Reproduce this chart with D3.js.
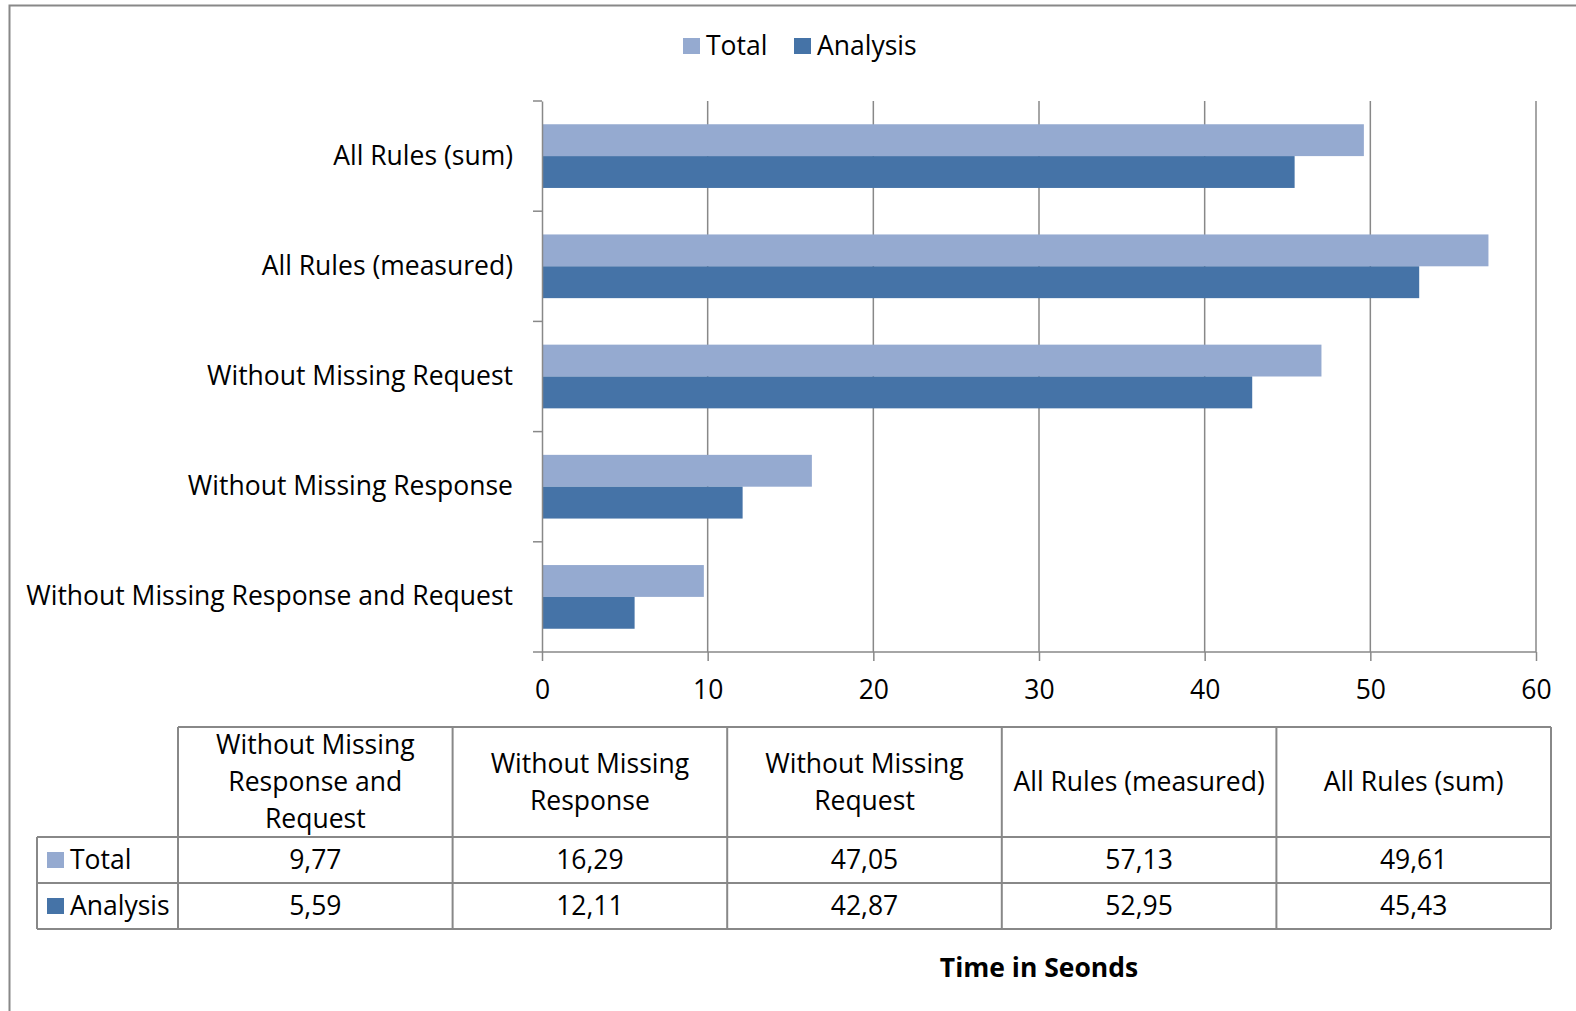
<!DOCTYPE html>
<html>
<head>
<meta charset="utf-8">
<script src="https://cdn.jsdelivr.net/npm/d3@7"></script>
<style>
  html, body { margin: 0; padding: 0; background: #fff; }
  svg text { font-family: "Open Sans", "Noto Sans", sans-serif; fill: #000; }
</style>
</head>
<body>
<svg id="chart" width="1576" height="1011"></svg>
<script>
// Run-time categories, in table order (bottom bar first)
const categories = [
  "Without Missing Response and Request",
  "Without Missing Response",
  "Without Missing Request",
  "All Rules (measured)",
  "All Rules (sum)"
];
const seriesNames = ["Total", "Analysis"];
const totalValues = [9.77, 16.29, 47.05, 57.13, 49.61];
const analysisValues = [5.59, 12.11, 42.87, 52.95, 45.43];
const xTicks = [0, 10, 20, 30, 40, 50, 60];
const axisTitle = "Time in Seonds";

const colors = { Total: "#95AAD0", Analysis: "#4573A7" };
const lineGray = "#888888";

const svg = d3.select("#chart");
const W = 1576, H = 1011;
const fontSize = 26.5;

// outer chart frame
svg.append("rect")
  .attr("x", 9.5).attr("y", 5.5)
  .attr("width", W).attr("height", H)
  .attr("fill", "none").attr("stroke", lineGray).attr("stroke-width", 2);

const plot = { left: 542, right: 1536, top: 101, bottom: 652 };

const x = d3.scaleLinear().domain([0, 60]).range([plot.left, plot.right]);
const y = d3.scaleBand()
  .domain(categories.slice().reverse())
  .range([plot.top, plot.bottom]);
const inner = d3.scaleBand()
  .domain(seriesNames)
  .range([0, y.bandwidth()])
  .paddingOuter(0.73).paddingInner(0);

// vertical gridlines
svg.append("g")
  .selectAll("line")
  .data(xTicks.slice(1))
  .join("line")
  .attr("x1", d => x(d)).attr("x2", d => x(d))
  .attr("y1", plot.top).attr("y2", plot.bottom)
  .attr("stroke", lineGray).attr("stroke-width", 1.5);

// bars
const rows = categories.map((c, i) => ({ cat: c, Total: totalValues[i], Analysis: analysisValues[i] }));
const barG = svg.append("g");
rows.forEach(r => {
  seriesNames.forEach(s => {
    barG.append("rect")
      .attr("x", x(0))
      .attr("y", y(r.cat) + inner(s))
      .attr("width", x(r[s]) - x(0))
      .attr("height", inner.bandwidth())
      .attr("fill", colors[s]);
  });
});

// x axis
const xAxis = svg.append("g")
  .attr("transform", `translate(0,${plot.bottom})`)
  .call(d3.axisBottom(x).tickValues(xTicks).tickSize(9).tickPadding(19).tickSizeOuter(0));
xAxis.select(".domain").attr("stroke", lineGray).attr("stroke-width", 1.5)
  .attr("d", `M${plot.left - 9},0H${plot.right}`);
xAxis.selectAll(".tick line").attr("stroke", lineGray).attr("stroke-width", 1.5);
xAxis.selectAll(".tick text")
  .style("font-family", '"Open Sans", sans-serif')
  .style("font-size", fontSize + "px").attr("fill", "#000");

// y axis
const yAxis = svg.append("g")
  .attr("transform", `translate(${plot.left},0)`)
  .call(d3.axisLeft(y).tickSize(0).tickPadding(29));
yAxis.select(".domain").attr("stroke", lineGray).attr("stroke-width", 1.5);
yAxis.selectAll(".tick text")
  .style("font-family", '"Open Sans", sans-serif')
  .style("font-size", fontSize + "px").attr("fill", "#000");
// tick marks on the category boundaries
const bounds = y.domain().map(d => y(d));
yAxis.append("g").selectAll("line")
  .data(bounds)
  .join("line")
  .attr("x1", -9).attr("x2", 0)
  .attr("y1", d => d).attr("y2", d => d)
  .attr("stroke", lineGray).attr("stroke-width", 1.5);

// legend
const legend = svg.append("g").attr("transform", "translate(683,38)");
const legendX = [0, 111];
seriesNames.forEach((s, i) => {
  const g = legend.append("g").attr("transform", `translate(${legendX[i]},0)`);
  g.append("rect").attr("width", 17).attr("height", 16).attr("fill", colors[s]);
  g.append("text").attr("x", 23).attr("y", 8).attr("dy", "0.35em")
    .style("font-size", fontSize + "px").text(s);
});

// data table
const table = svg.append("g");
const tLeft = 37, col0Right = 178, tRight = 1551;
const colW = (tRight - col0Right) / categories.length;
const rowY = [727, 837, 883, 929];

function hline(x1, x2, yy) {
  table.append("line").attr("x1", x1).attr("x2", x2).attr("y1", yy).attr("y2", yy)
    .attr("stroke", lineGray).attr("stroke-width", 2);
}
function vline(xx, y1, y2) {
  table.append("line").attr("x1", xx).attr("x2", xx).attr("y1", y1).attr("y2", y2)
    .attr("stroke", lineGray).attr("stroke-width", 2);
}
hline(col0Right, tRight, rowY[0]);
hline(tLeft, tRight, rowY[1]);
hline(tLeft, tRight, rowY[2]);
hline(tLeft, tRight, rowY[3]);
vline(tLeft, rowY[1], rowY[3]);
for (let i = 0; i <= categories.length; i++) {
  vline(col0Right + i * colW, rowY[0], rowY[3]);
}

// header cells with word wrapping
categories.forEach((c, i) => {
  const cx = col0Right + (i + 0.5) * colW;
  const t = table.append("text").attr("text-anchor", "middle").style("font-size", fontSize + "px");
  const words = c.split(" ");
  const lines = [];
  let cur = [];
  const probe = table.append("text").style("font-size", fontSize + "px");
  words.forEach(w => {
    const test = cur.concat([w]).join(" ");
    probe.text(test);
    if (probe.node().getComputedTextLength() > colW - 14 && cur.length) {
      lines.push(cur.join(" "));
      cur = [w];
    } else cur.push(w);
  });
  lines.push(cur.join(" "));
  probe.remove();
  const lh = 37;
  const midY = (rowY[0] + rowY[1]) / 2;
  lines.forEach((ln, k) => {
    t.append("tspan").attr("x", cx)
      .attr("y", midY + (k - (lines.length - 1) / 2) * lh)
      .attr("dy", "0.35em").text(ln);
  });
});

// value rows
const fmt = v => d3.format(".2f")(v).replace(".", ",");
[totalValues, analysisValues].forEach((vals, r) => {
  const cy = (rowY[r + 1] + rowY[r + 2]) / 2;
  const s = seriesNames[r];
  table.append("rect").attr("x", 47).attr("y", cy - 8).attr("width", 17).attr("height", 16)
    .attr("fill", colors[s]);
  table.append("text").attr("x", 70).attr("y", cy).attr("dy", "0.35em")
    .style("font-size", fontSize + "px").text(s);
  vals.forEach((v, i) => {
    table.append("text").attr("x", col0Right + (i + 0.5) * colW).attr("y", cy)
      .attr("dy", "0.35em").attr("text-anchor", "middle")
      .style("font-size", fontSize + "px").text(fmt(v));
  });
});

// axis title
svg.append("text")
  .attr("x", (plot.left + plot.right) / 2).attr("y", 968).attr("dy", "0.35em")
  .attr("text-anchor", "middle")
  .style("font-size", fontSize + "px").style("font-weight", "bold")
  .text(axisTitle);
</script>
</body>
</html>
